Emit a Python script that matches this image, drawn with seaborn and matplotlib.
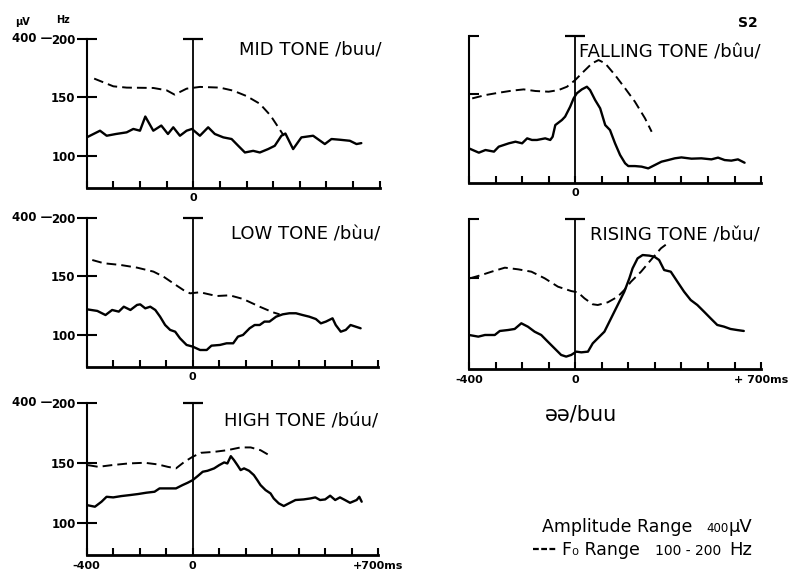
import matplotlib
matplotlib.use("Agg")
import matplotlib.pyplot as plt
from matplotlib.lines import Line2D
import pandas as pd
import seaborn as sns

# ---- values: time in ms, curves in units of the Hz axis ----
# dashed line = F0 contour, solid line = averaged response amplitude

mid_f0_t = [-372, -300, -250, -150, -100, -70, -25, 25, 100, 150, 200, 250, 290, 315, 340]
mid_f0 = [166.1, 159.5, 158.4, 158.1, 156.1, 152.4, 157.5, 159.0, 158.4, 155.8, 151.2, 144.6, 134.6, 126.0, 117.3]
mid_erp_t = [-400, -350, -325, -290, -250, -225, -200, -180, -150, -120, -95, -75, -50, -25, -5,
             25, 56, 81, 113, 144, 169, 194, 225, 250, 281, 306, 331, 346, 375, 406, 450, 494,
             519, 550, 588, 613, 631]
mid_erp = [115.9, 121.6, 117.3, 118.8, 120.2, 123.1, 121.6, 133.7, 121.6, 126.0, 118.8, 124.5, 117.3,
           121.6, 123.1, 117.3, 124.5, 118.8, 115.9, 114.5, 108.7, 103.0, 104.4, 103.0, 105.9, 108.7,
           117.3, 119.2, 105.9, 115.9, 117.3, 110.2, 114.5, 113.9, 113.0, 110.2, 111.0]

low_f0_t = [-379, -335, -273, -210, -148, -110, -73, -35, -10, 28, 90, 140, 190, 253, 303, 328]
low_f0 = [163.9, 161.1, 159.7, 157.4, 154.0, 149.7, 144.0, 138.3, 135.5, 136.4, 133.2, 133.8, 130.7,
          124.1, 119.3, 117.6]
low_erp_t = [-400, -360, -329, -304, -279, -260, -235, -210, -198, -179, -160, -141, -123, -104, -85,
             -66, -48, -23, 0, 28, 53, 71, 103, 128, 153, 171, 190, 215, 234, 253, 271, 290, 315,
             340, 365, 390, 415, 440, 465, 484, 503, 528, 540, 559, 578, 596, 615, 634]
low_erp = [121.9, 120.5, 117.0, 121.3, 119.9, 124.1, 121.3, 125.6, 126.1, 122.7, 124.1, 121.3, 115.6,
           108.5, 104.3, 102.8, 97.2, 91.5, 90.1, 87.2, 87.2, 90.9, 91.5, 92.9, 92.9, 98.6, 100.0,
           105.7, 108.5, 108.5, 111.4, 111.4, 115.6, 117.6, 118.5, 118.5, 117.0, 115.6, 113.6, 109.9,
           111.4, 114.2, 108.5, 102.8, 104.3, 108.5, 107.1, 105.7]

high_f0_t = [-395, -356, -306, -244, -181, -131, -94, -63, -31, 0, 31, 81, 131, 181, 219, 256, 288]
high_f0 = [148.0, 146.6, 148.0, 149.4, 150.0, 148.6, 146.6, 145.3, 150.8, 155.0, 158.3, 159.1, 160.5,
           162.8, 162.8, 160.5, 156.4]
high_erp_t = [-400, -369, -344, -325, -300, -269, -238, -206, -175, -144, -125, -94, -63, -38, -19, 0,
              19, 38, 56, 81, 100, 119, 131, 144, 156, 169, 181, 194, 213, 231, 244, 256, 275, 294,
              306, 325, 344, 363, 388, 419, 444, 463, 481, 500, 519, 538, 556, 575, 594, 619, 629, 638]
high_erp = [114.7, 113.3, 117.5, 121.6, 121.1, 122.2, 123.0, 123.9, 125.0, 125.8, 128.6, 128.6, 128.6,
            131.4, 133.3, 135.5, 138.9, 142.5, 143.3, 145.3, 148.0, 150.3, 149.4, 155.5, 152.2, 148.0,
            143.9, 145.3, 143.3, 139.7, 135.5, 131.4, 127.2, 124.4, 120.2, 116.1, 113.9, 116.1, 118.9,
            119.4, 120.2, 121.1, 118.9, 119.4, 122.5, 118.9, 121.1, 118.9, 116.6, 118.9, 121.6, 117.5]

falling_f0_t = [-388, -338, -288, -238, -194, -150, -100, -63, -31, 0, 31, 63, 88, 113, 150, 188,
                225, 263, 288]
falling_f0 = [146.0, 148.9, 150.9, 152.7, 153.8, 152.4, 151.8, 153.2, 156.1, 161.9, 169.1, 176.3,
              179.2, 176.3, 166.2, 154.7, 143.1, 128.7, 117.1]
falling_erp_t = [-400, -363, -338, -306, -288, -250, -225, -200, -181, -163, -144, -113, -94, -85,
                 -75, -50, -38, -19, -6, 6, 25, 44, 56, 75, 94, 113, 131, 150, 169, 188, 200, 225,
                 250, 275, 300, 325, 350, 375, 400, 438, 475, 513, 538, 563, 588, 613, 638]
falling_erp = [102.7, 99.0, 101.3, 99.9, 104.2, 107.1, 108.5, 107.1, 111.4, 110.0, 110.0, 111.4, 110.0,
               112.8, 122.9, 127.3, 130.2, 138.8, 146.0, 150.4, 153.8, 156.1, 153.2, 144.6, 137.4,
               122.9, 118.6, 107.1, 97.0, 89.8, 87.4, 87.4, 86.9, 85.4, 88.3, 91.2, 92.6, 94.1, 94.9,
               93.8, 94.1, 93.2, 94.7, 92.6, 92.1, 93.2, 90.3]

rising_f0_t = [-396, -353, -315, -265, -215, -165, -115, -65, -15, 10, 35, 66, 85, 123, 160, 185,
               210, 248, 285, 323, 348]
rising_f0 = [149.8, 152.6, 155.4, 158.8, 157.4, 155.4, 149.8, 142.7, 139.0, 137.9, 132.8, 127.8,
             127.2, 129.5, 134.2, 139.9, 146.9, 155.4, 165.3, 175.2, 179.4]
rising_erp_t = [-400, -365, -340, -303, -284, -253, -228, -203, -178, -153, -128, -103, -78, -53,
                -34, -15, 4, 23, 48, 66, 85, 110, 135, 160, 185, 204, 216, 235, 254, 279, 298, 316,
                335, 360, 385, 410, 435, 460, 485, 510, 535, 560, 585, 610, 635]
rising_erp = [101.8, 100.4, 101.8, 101.8, 105.2, 106.0, 106.9, 111.7, 108.8, 104.6, 101.8, 96.1,
              90.5, 84.9, 83.5, 84.9, 87.7, 87.1, 87.7, 94.7, 99.0, 104.6, 115.9, 127.2, 138.5,
              149.8, 158.2, 166.7, 169.5, 169.0, 168.1, 165.3, 156.8, 155.4, 146.9, 138.5, 131.4,
              127.2, 121.6, 115.9, 110.3, 108.9, 106.9, 106.0, 105.2]

titles = ["MID TONE /buu/", "LOW TONE /bùu/", "HIGH TONE /búu/",
          "FALLING TONE /bûu/", "RISING TONE /bǔu/"]
f0_ticks = [100, 150, 200]
f0_tick_labels = ["100", "150", "200"]

# ---- figure ----
sns.set_theme(style="white")
plt.rcParams["font.family"] = ["DejaVu Sans"]
plt.rcParams["text.color"] = "black"
plt.rcParams["xtick.color"] = "black"
plt.rcParams["ytick.color"] = "black"
narrow = ["Liberation Sans Narrow", "DejaVu Sans"]

fig = plt.figure(figsize=(7.94, 5.72), dpi=100)

# (curves, title, axes rect, left column?, end label, title position)
panels = [
    (mid_f0_t, mid_f0, mid_erp_t, mid_erp, titles[0], [0.1092, 0.672, 0.369, 0.260], True, "", (1.007, 0.926)),
    (low_f0_t, low_f0, low_erp_t, low_erp, titles[1], [0.1092, 0.359, 0.367, 0.2605], True, "", (1.007, 0.884)),
    (high_f0_t, high_f0, high_erp_t, high_erp, titles[2], [0.1092, 0.0297, 0.367, 0.266], True, "+700ms", (1.0, 0.88)),
    (falling_f0_t, falling_f0, falling_erp_t, falling_erp, titles[3], [0.5907, 0.6806, 0.3678, 0.2564], False, "", (0.997, 0.891)),
    (rising_f0_t, rising_f0, rising_erp_t, rising_erp, titles[4], [0.5907, 0.3549, 0.3678, 0.2622], False, "+ 700ms", (0.997, 0.893)),
]

for f0_t, f0, erp_t, erp, title, rect, left_col, end_label, tpos in panels:
    ax = fig.add_axes(rect)
    ax.set_facecolor("none")
    df_f0 = pd.DataFrame({"ms": f0_t, "hz": f0})
    df_erp = pd.DataFrame({"ms": erp_t, "amp": erp})
    sns.lineplot(data=df_f0, x="ms", y="hz", ax=ax, color="black", lw=1.4,
                 linestyle=(0, (5.0, 2.6)), estimator=None, sort=False)
    sns.lineplot(data=df_erp, x="ms", y="amp", ax=ax, color="black", lw=1.7,
                 estimator=None, sort=False)

    ax.set_xlim(-400, 700)
    ax.set_ylim(73, 200)
    ax.set_xlabel("")
    ax.set_ylabel("")
    for side in ("top", "right"):
        ax.spines[side].set_visible(False)
    ax.spines["left"].set_linewidth(1.5)
    ax.spines["bottom"].set_linewidth(2.0)
    for side in ("left", "bottom"):
        ax.spines[side].set_color("black")

    # time axis: ticks every 100 ms pointing up
    xt = list(range(-400, 701, 100))
    xl = [""] * len(xt)
    xl[xt.index(0)] = "0"
    if end_label:
        xl[0] = "-400"
        xl[-1] = end_label
    ax.set_xticks(xt)
    ax.set_xticklabels(xl)
    ax.tick_params(axis="x", direction="in", length=5, width=1.5, color="black",
                   pad=4, labelsize=8, bottom=True)
    for lab in ax.get_xticklabels():
        lab.set_fontweight("bold")

    # F0 axis
    if left_col:
        ax.set_yticks(f0_ticks)
        ax.set_yticklabels(f0_tick_labels)
        ax.tick_params(axis="y", direction="inout", length=14, width=1.5, color="black",
                       pad=1, labelsize=8.5, left=True)
        for lab in ax.get_yticklabels():
            lab.set_fontweight("bold")
        ax.text(-0.118, 200, "400 —", transform=ax.get_yaxis_transform(),
                ha="right", va="center", fontsize=8.5, fontweight="bold")
    else:
        ax.set_yticks(f0_ticks[1:])
        ax.set_yticklabels([])
        ax.tick_params(axis="y", direction="in", length=7, width=1.5, color="black", left=True)

    # stimulus onset line with cap
    ax.axvline(0, color="black", lw=1.3)
    ax.plot([0], [200], marker="_", ms=14, mew=1.6, color="black", clip_on=False)

    ax.text(tpos[0], tpos[1], title, transform=ax.transAxes, ha="right", va="center",
            fontsize=13, family=narrow)

# headers and key
fig.text(22 / 794, 1 - 22 / 572, "μV", ha="center", va="center", fontsize=7, fontweight="bold")
fig.text(63 / 794, 1 - 20 / 572, "Hz", ha="center", va="center", fontsize=7, fontweight="bold")
fig.text(758 / 794, 1 - 23 / 572, "S2", ha="right", va="center", fontsize=10, fontweight="bold")
fig.text(545 / 794, 1 - 420 / 572, "əə/buu", ha="left", va="baseline", fontsize=15)

fig.text(542 / 794, 1 - 532 / 572, "Amplitude Range", ha="left", va="baseline", fontsize=12.5)
fig.text(706 / 794, 1 - 532 / 572, "400", ha="left", va="baseline", fontsize=8.5)
fig.text(729 / 794, 1 - 532 / 572, "μV", ha="left", va="baseline", fontsize=13)
fig.add_artist(Line2D([533 / 794, 557 / 794], [1 - 549 / 572, 1 - 549 / 572],
                      transform=fig.transFigure, color="black", lw=1.6,
                      linestyle=(0, (2.6, 1.1))))
fig.text(562 / 794, 1 - 555 / 572, "F₀ Range", ha="left", va="baseline", fontsize=12.5)
fig.text(655 / 794, 1 - 555 / 572, "100 - 200", ha="left", va="baseline", fontsize=10)
fig.text(729 / 794, 1 - 555 / 572, "Hz", ha="left", va="baseline", fontsize=13)

fig.savefig("out.png", dpi=100)
